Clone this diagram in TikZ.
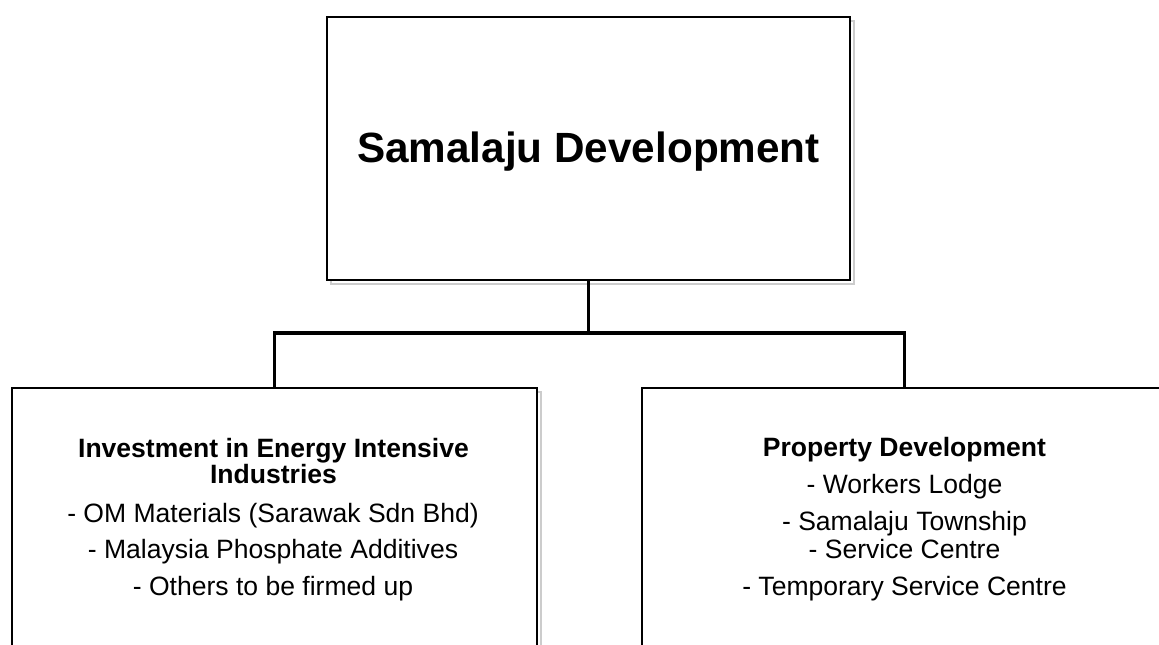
\documentclass[tikz,border=0pt]{standalone}
\usepackage{fontspec}
\setmainfont{Liberation Sans}
\begin{document}
\begin{tikzpicture}[x=0.75pt,y=-0.75pt,
  box/.style={draw=black, line width=1.5pt, fill=white, inner sep=0pt, outer sep=0pt},
  shadowline/.style={draw=gray!40, line width=1.5pt},
  conn/.style={draw=black, line width=2.6pt},
  head/.style={font=\fontsize{19.9}{20}\selectfont\bfseries, anchor=base, inner sep=0pt},
  item/.style={font=\fontsize{19.9}{20}\selectfont, anchor=base, inner sep=0pt},
  title/.style={font=\fontsize{31.7}{32}\selectfont\bfseries, anchor=base, inner sep=0pt}]
\useasboundingbox (0,0) rectangle (1159,645);
\clip (0,0) rectangle (1159,645);
\fill[white] (0,0) rectangle (1159,645);

% soft shadows behind the boxes
\draw[shadowline] (331,21) rectangle (854,284);
\draw[shadowline] (16,392) rectangle (541,730);
\draw[shadowline] (646,392) rectangle (1171,730);

% boxes
\node[box, minimum width=392.25pt, minimum height=197.25pt] (top) at (588.5,148.5) {};
\node[box, minimum width=393.75pt, minimum height=249pt] (left) at (274.5,554) {};
\node[box, minimum width=393.75pt, minimum height=249pt] (right) at (904.5,554) {};

% connectors
\coordinate (bus) at (588.5,333);
\draw[conn] (top.south) -- (bus);
\draw[conn] (left.north) |- (bus) -| (right.north);

% texts
\node[title] (ttl) at (588.5,163) {Samalaju Development};

\node[head] (lh1) at (273.5,457) {Investment in Energy Intensive};
\node[head] (lh2) at (273.5,483) {Industries};
\node[item] (l1) at (273,522) {- OM Materials (Sarawak Sdn Bhd)};
\node[item] (l2) at (273,558) {- Malaysia Phosphate Additives};
\node[item] (l3) at (273,595) {- Others to be firmed up};

\node[head] (rh) at (904.5,456) {Property Development};
\node[item] (r1) at (904.5,493) {- Workers Lodge};
\node[item] (r2) at (904.5,530) {- Samalaju Township};
\node[item] (r3) at (904.5,558) {- Service Centre};
\node[item] (r4) at (904.5,595) {- Temporary Service Centre};
\end{tikzpicture}
\end{document}
